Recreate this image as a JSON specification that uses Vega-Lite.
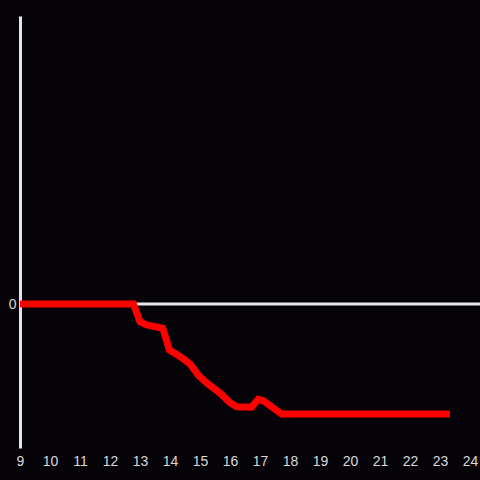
{
  "$schema": "https://vega.github.io/schema/vega-lite/v6.json",
  "width": 460,
  "height": 432,
  "autosize": {"type": "none"},
  "padding": {"left": 20, "top": 16, "right": 0, "bottom": 32},
  "background": "#050307",
  "config": {"view": {"stroke": null}},
  "datasets": {
    "series": [
      {"hour": 9.0, "value": 0},
      {"hour": 12.78, "value": 0},
      {"hour": 13.0, "value": -0.123},
      {"hour": 13.22, "value": -0.146},
      {"hour": 13.76, "value": -0.169},
      {"hour": 13.98, "value": -0.319},
      {"hour": 14.17, "value": -0.343},
      {"hour": 14.39, "value": -0.373},
      {"hour": 14.67, "value": -0.417},
      {"hour": 14.94, "value": -0.494},
      {"hour": 15.22, "value": -0.547},
      {"hour": 15.67, "value": -0.62},
      {"hour": 16.0, "value": -0.685},
      {"hour": 16.22, "value": -0.713},
      {"hour": 16.72, "value": -0.717},
      {"hour": 16.94, "value": -0.662},
      {"hour": 17.11, "value": -0.672},
      {"hour": 17.72, "value": -0.764},
      {"hour": 23.33, "value": -0.764}
    ],
    "zero": [{"start": 9, "end": 24.34, "value": 0}]
  },
  "encoding": {
    "x": {"type": "quantitative", "scale": {"domain": [9, 24.333], "nice": false, "zero": false},
          "axis": {"title": null, "grid": false, "domain": false, "ticks": false, "values": [9,10,11,12,13,14,15,16,17,18,19,20,21,22,23,24], "format": "d", "labelFont": "Liberation Sans", "labelFontSize": 14, "labelColor": "#d8d8d8", "labelPadding": 6, "labelFlush": false, "labelOverlap": false}},
    "y": {"field": "value", "type": "quantitative", "scale": {"domain": [-1, 2], "nice": false, "zero": false},
          "axis": {"title": null, "grid": false, "domain": true, "domainColor": "#e6e6e6", "domainWidth": 3, "ticks": false, "values": [0], "format": "d", "labelFont": "Liberation Sans", "labelFontSize": 14, "labelColor": "#d8d8d8", "labelPadding": 4}}
  },
  "layer": [
    {
      "data": {"name": "zero"},
      "mark": {"type": "rule", "color": "#e6e6e6", "strokeWidth": 3},
      "encoding": {
        "x": {"field": "start"},
        "x2": {"field": "end"}
      }
    },
    {
      "data": {"name": "series"},
      "mark": {"type": "line", "color": "#ff0000", "strokeWidth": 7, "strokeJoin": "miter"},
      "encoding": {
        "x": {"field": "hour"}
      }
    }
  ]
}
